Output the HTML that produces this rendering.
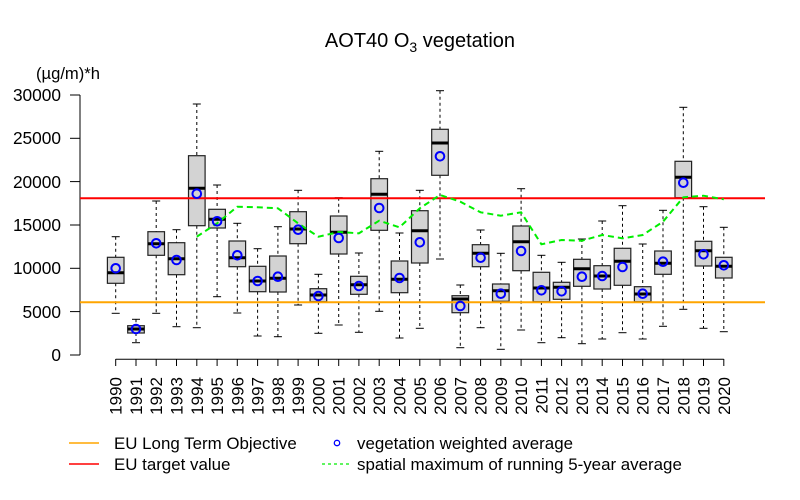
<!DOCTYPE html>
<html><head><meta charset="utf-8"><style>
html,body{margin:0;padding:0;background:#fff;}
svg{display:block;font-family:"Liberation Sans",Arial,sans-serif;}
.w{stroke:#000;stroke-width:1;stroke-dasharray:3,3;fill:none}
.c{stroke:#000;stroke-width:1}
.b{fill:#d3d3d3;stroke:#222;stroke-width:1.2}
.m{stroke:#000;stroke-width:3}
.o{fill:none;stroke:#0000ff;stroke-width:2}
</style></head><body>
<svg width="800" height="500" viewBox="0 0 800 500">
<text x="420" y="47" font-size="20" text-anchor="middle">AOT40 O<tspan font-size="14" dy="5">3</tspan><tspan dy="-5"> vegetation</tspan></text>
<text x="36" y="79" font-size="16.6">(µg/m)*h</text>
<!-- y axis -->
<line x1="80" y1="95" x2="80" y2="355" class="c"/>
<g class="c">
<line x1="70" y1="95" x2="80" y2="95"/><line x1="70" y1="138.3" x2="80" y2="138.3"/><line x1="70" y1="181.6" x2="80" y2="181.6"/><line x1="70" y1="225" x2="80" y2="225"/><line x1="70" y1="268.3" x2="80" y2="268.3"/><line x1="70" y1="311.6" x2="80" y2="311.6"/><line x1="70" y1="355" x2="80" y2="355"/>
</g>
<g font-size="17.3" text-anchor="end">
<text x="61" y="101">30000</text><text x="61" y="144">25000</text><text x="61" y="188">20000</text><text x="61" y="231">15000</text><text x="61" y="274">10000</text><text x="61" y="318">5000</text><text x="61" y="361">0</text>
</g>
<!-- x axis -->
<line x1="115.7" y1="359.3" x2="723.8" y2="359.3" class="c"/>
<g class="c">
<line x1="115.7" y1="359" x2="115.7" y2="366"/><line x1="136" y1="359" x2="136" y2="366"/><line x1="156.2" y1="359" x2="156.2" y2="366"/><line x1="176.5" y1="359" x2="176.5" y2="366"/><line x1="196.8" y1="359" x2="196.8" y2="366"/><line x1="217.1" y1="359" x2="217.1" y2="366"/><line x1="237.3" y1="359" x2="237.3" y2="366"/><line x1="257.6" y1="359" x2="257.6" y2="366"/><line x1="277.9" y1="359" x2="277.9" y2="366"/><line x1="298.1" y1="359" x2="298.1" y2="366"/><line x1="318.4" y1="359" x2="318.4" y2="366"/><line x1="338.7" y1="359" x2="338.7" y2="366"/><line x1="358.9" y1="359" x2="358.9" y2="366"/><line x1="379.2" y1="359" x2="379.2" y2="366"/><line x1="399.5" y1="359" x2="399.5" y2="366"/><line x1="419.8" y1="359" x2="419.8" y2="366"/><line x1="440" y1="359" x2="440" y2="366"/><line x1="460.3" y1="359" x2="460.3" y2="366"/><line x1="480.6" y1="359" x2="480.6" y2="366"/><line x1="500.8" y1="359" x2="500.8" y2="366"/><line x1="521.1" y1="359" x2="521.1" y2="366"/><line x1="541.4" y1="359" x2="541.4" y2="366"/><line x1="561.6" y1="359" x2="561.6" y2="366"/><line x1="581.9" y1="359" x2="581.9" y2="366"/><line x1="602.2" y1="359" x2="602.2" y2="366"/><line x1="622.5" y1="359" x2="622.5" y2="366"/><line x1="642.7" y1="359" x2="642.7" y2="366"/><line x1="663" y1="359" x2="663" y2="366"/><line x1="683.3" y1="359" x2="683.3" y2="366"/><line x1="703.5" y1="359" x2="703.5" y2="366"/><line x1="723.8" y1="359" x2="723.8" y2="366"/>
</g>
<g font-size="17" text-anchor="end">
<text transform="translate(121.7,377) rotate(-90)">1990</text><text transform="translate(142,377) rotate(-90)">1991</text><text transform="translate(162.2,377) rotate(-90)">1992</text><text transform="translate(182.5,377) rotate(-90)">1993</text><text transform="translate(202.8,377) rotate(-90)">1994</text><text transform="translate(223.1,377) rotate(-90)">1995</text><text transform="translate(243.3,377) rotate(-90)">1996</text><text transform="translate(263.6,377) rotate(-90)">1997</text><text transform="translate(283.9,377) rotate(-90)">1998</text><text transform="translate(304.1,377) rotate(-90)">1999</text><text transform="translate(324.4,377) rotate(-90)">2000</text><text transform="translate(344.7,377) rotate(-90)">2001</text><text transform="translate(364.9,377) rotate(-90)">2002</text><text transform="translate(385.2,377) rotate(-90)">2003</text><text transform="translate(405.5,377) rotate(-90)">2004</text><text transform="translate(425.8,377) rotate(-90)">2005</text><text transform="translate(446,377) rotate(-90)">2006</text><text transform="translate(466.3,377) rotate(-90)">2007</text><text transform="translate(486.6,377) rotate(-90)">2008</text><text transform="translate(506.8,377) rotate(-90)">2009</text><text transform="translate(527.1,377) rotate(-90)">2010</text><text transform="translate(547.4,377) rotate(-90)">2011</text><text transform="translate(567.6,377) rotate(-90)">2012</text><text transform="translate(587.9,377) rotate(-90)">2013</text><text transform="translate(608.2,377) rotate(-90)">2014</text><text transform="translate(628.5,377) rotate(-90)">2015</text><text transform="translate(648.7,377) rotate(-90)">2016</text><text transform="translate(669,377) rotate(-90)">2017</text><text transform="translate(689.3,377) rotate(-90)">2018</text><text transform="translate(709.5,377) rotate(-90)">2019</text><text transform="translate(729.8,377) rotate(-90)">2020</text>
</g>

<g id="boxes">
<line class="w" x1="115.7" y1="236.7" x2="115.7" y2="257.3"/><line class="w" x1="115.7" y1="283.3" x2="115.7" y2="313.3"/><line class="c" x1="111.7" y1="236.7" x2="119.7" y2="236.7"/><line class="c" x1="111.7" y1="313.3" x2="119.7" y2="313.3"/><rect class="b" x="107.4" y="257.3" width="16.6" height="26"/><line class="m" x1="107.4" y1="272.7" x2="124" y2="272.7"/>
<line class="w" x1="136" y1="319.3" x2="136" y2="325.7"/><line class="w" x1="136" y1="333" x2="136" y2="342.7"/><line class="c" x1="132" y1="319.3" x2="140" y2="319.3"/><line class="c" x1="132" y1="342.7" x2="140" y2="342.7"/><rect class="b" x="127.7" y="325.7" width="16.6" height="7.3"/><line class="m" x1="127.7" y1="329" x2="144.3" y2="329"/>
<line class="w" x1="156.2" y1="201" x2="156.2" y2="231.7"/><line class="w" x1="156.2" y1="255.3" x2="156.2" y2="313.3"/><line class="c" x1="152.2" y1="201" x2="160.2" y2="201"/><line class="c" x1="152.2" y1="313.3" x2="160.2" y2="313.3"/><rect class="b" x="147.9" y="231.7" width="16.6" height="23.6"/><line class="m" x1="147.9" y1="243.7" x2="164.5" y2="243.7"/>
<line class="w" x1="176.5" y1="229.7" x2="176.5" y2="242.7"/><line class="w" x1="176.5" y1="274.7" x2="176.5" y2="326.7"/><line class="c" x1="172.5" y1="229.7" x2="180.5" y2="229.7"/><line class="c" x1="172.5" y1="326.7" x2="180.5" y2="326.7"/><rect class="b" x="168.2" y="242.7" width="16.6" height="32"/><line class="m" x1="168.2" y1="258.7" x2="184.8" y2="258.7"/>
<line class="w" x1="196.8" y1="104" x2="196.8" y2="155.7"/><line class="w" x1="196.8" y1="225.7" x2="196.8" y2="327.7"/><line class="c" x1="192.8" y1="104" x2="200.8" y2="104"/><line class="c" x1="192.8" y1="327.7" x2="200.8" y2="327.7"/><rect class="b" x="188.5" y="155.7" width="16.6" height="70"/><line class="m" x1="188.5" y1="188.3" x2="205.1" y2="188.3"/>
<line class="w" x1="217.1" y1="185" x2="217.1" y2="209.3"/><line class="w" x1="217.1" y1="228" x2="217.1" y2="296.7"/><line class="c" x1="213.1" y1="185" x2="221.1" y2="185"/><line class="c" x1="213.1" y1="296.7" x2="221.1" y2="296.7"/><rect class="b" x="208.8" y="209.3" width="16.6" height="18.7"/><line class="m" x1="208.8" y1="219.3" x2="225.4" y2="219.3"/>
<line class="w" x1="237.3" y1="223.3" x2="237.3" y2="241"/><line class="w" x1="237.3" y1="266.7" x2="237.3" y2="313"/><line class="c" x1="233.3" y1="223.3" x2="241.3" y2="223.3"/><line class="c" x1="233.3" y1="313" x2="241.3" y2="313"/><rect class="b" x="229" y="241" width="16.6" height="25.7"/><line class="m" x1="229" y1="257.7" x2="245.6" y2="257.7"/>
<line class="w" x1="257.6" y1="248.7" x2="257.6" y2="266.3"/><line class="w" x1="257.6" y1="291.7" x2="257.6" y2="336"/><line class="c" x1="253.6" y1="248.7" x2="261.6" y2="248.7"/><line class="c" x1="253.6" y1="336" x2="261.6" y2="336"/><rect class="b" x="249.3" y="266.3" width="16.6" height="25.4"/><line class="m" x1="249.3" y1="281" x2="265.9" y2="281"/>
<line class="w" x1="277.9" y1="226.7" x2="277.9" y2="256"/><line class="w" x1="277.9" y1="292" x2="277.9" y2="336.7"/><line class="c" x1="273.9" y1="226.7" x2="281.9" y2="226.7"/><line class="c" x1="273.9" y1="336.7" x2="281.9" y2="336.7"/><rect class="b" x="269.6" y="256" width="16.6" height="36"/><line class="m" x1="269.6" y1="278.3" x2="286.2" y2="278.3"/>
<line class="w" x1="298.1" y1="190.3" x2="298.1" y2="211.7"/><line class="w" x1="298.1" y1="243.7" x2="298.1" y2="305"/><line class="c" x1="294.1" y1="190.3" x2="302.1" y2="190.3"/><line class="c" x1="294.1" y1="305" x2="302.1" y2="305"/><rect class="b" x="289.8" y="211.7" width="16.6" height="32"/><line class="m" x1="289.8" y1="229" x2="306.4" y2="229"/>
<line class="w" x1="318.4" y1="274.3" x2="318.4" y2="288.7"/><line class="w" x1="318.4" y1="301.7" x2="318.4" y2="333.3"/><line class="c" x1="314.4" y1="274.3" x2="322.4" y2="274.3"/><line class="c" x1="314.4" y1="333.3" x2="322.4" y2="333.3"/><rect class="b" x="310.1" y="288.7" width="16.6" height="13"/><line class="m" x1="310.1" y1="295" x2="326.7" y2="295"/>
<line class="w" x1="338.7" y1="197.7" x2="338.7" y2="216"/><line class="w" x1="338.7" y1="254" x2="338.7" y2="325"/><line class="c" x1="334.7" y1="197.7" x2="342.7" y2="197.7"/><line class="c" x1="334.7" y1="325" x2="342.7" y2="325"/><rect class="b" x="330.4" y="216" width="16.6" height="38"/><line class="m" x1="330.4" y1="232.3" x2="347" y2="232.3"/>
<line class="w" x1="358.9" y1="253" x2="358.9" y2="276.3"/><line class="w" x1="358.9" y1="294.3" x2="358.9" y2="332.3"/><line class="c" x1="354.9" y1="253" x2="362.9" y2="253"/><line class="c" x1="354.9" y1="332.3" x2="362.9" y2="332.3"/><rect class="b" x="350.6" y="276.3" width="16.6" height="18"/><line class="m" x1="350.6" y1="284.7" x2="367.2" y2="284.7"/>
<line class="w" x1="379.2" y1="151.3" x2="379.2" y2="178.7"/><line class="w" x1="379.2" y1="230.3" x2="379.2" y2="311.3"/><line class="c" x1="375.2" y1="151.3" x2="383.2" y2="151.3"/><line class="c" x1="375.2" y1="311.3" x2="383.2" y2="311.3"/><rect class="b" x="370.9" y="178.7" width="16.6" height="51.6"/><line class="m" x1="370.9" y1="194.3" x2="387.5" y2="194.3"/>
<line class="w" x1="399.5" y1="233" x2="399.5" y2="261"/><line class="w" x1="399.5" y1="292.7" x2="399.5" y2="338"/><line class="c" x1="395.5" y1="233" x2="403.5" y2="233"/><line class="c" x1="395.5" y1="338" x2="403.5" y2="338"/><rect class="b" x="391.2" y="261" width="16.6" height="31.7"/><line class="m" x1="391.2" y1="279.3" x2="407.8" y2="279.3"/>
<line class="w" x1="419.8" y1="190.3" x2="419.8" y2="210.7"/><line class="w" x1="419.8" y1="263" x2="419.8" y2="328.3"/><line class="c" x1="415.8" y1="190.3" x2="423.8" y2="190.3"/><line class="c" x1="415.8" y1="328.3" x2="423.8" y2="328.3"/><rect class="b" x="411.5" y="210.7" width="16.6" height="52.3"/><line class="m" x1="411.5" y1="230.7" x2="428.1" y2="230.7"/>
<line class="w" x1="440" y1="90.7" x2="440" y2="129.3"/><line class="w" x1="440" y1="175.3" x2="440" y2="259"/><line class="c" x1="436" y1="90.7" x2="444" y2="90.7"/><line class="c" x1="436" y1="259" x2="444" y2="259"/><rect class="b" x="431.7" y="129.3" width="16.6" height="46"/><line class="m" x1="431.7" y1="143" x2="448.3" y2="143"/>
<line class="w" x1="460.3" y1="285" x2="460.3" y2="295.7"/><line class="w" x1="460.3" y1="312.7" x2="460.3" y2="347.7"/><line class="c" x1="456.3" y1="285" x2="464.3" y2="285"/><line class="c" x1="456.3" y1="347.7" x2="464.3" y2="347.7"/><rect class="b" x="452" y="295.7" width="16.6" height="17"/><line class="m" x1="452" y1="299" x2="468.6" y2="299"/>
<line class="w" x1="480.6" y1="230" x2="480.6" y2="244.7"/><line class="w" x1="480.6" y1="266.7" x2="480.6" y2="327.7"/><line class="c" x1="476.6" y1="230" x2="484.6" y2="230"/><line class="c" x1="476.6" y1="327.7" x2="484.6" y2="327.7"/><rect class="b" x="472.3" y="244.7" width="16.6" height="22"/><line class="m" x1="472.3" y1="253.3" x2="488.9" y2="253.3"/>
<line class="w" x1="500.8" y1="253.3" x2="500.8" y2="284"/><line class="w" x1="500.8" y1="301.3" x2="500.8" y2="349.3"/><line class="c" x1="496.8" y1="253.3" x2="504.8" y2="253.3"/><line class="c" x1="496.8" y1="349.3" x2="504.8" y2="349.3"/><rect class="b" x="492.5" y="284" width="16.6" height="17.3"/><line class="m" x1="492.5" y1="290.7" x2="509.1" y2="290.7"/>
<line class="w" x1="521.1" y1="188.7" x2="521.1" y2="226"/><line class="w" x1="521.1" y1="270.7" x2="521.1" y2="330"/><line class="c" x1="517.1" y1="188.7" x2="525.1" y2="188.7"/><line class="c" x1="517.1" y1="330" x2="525.1" y2="330"/><rect class="b" x="512.8" y="226" width="16.6" height="44.7"/><line class="m" x1="512.8" y1="241.7" x2="529.4" y2="241.7"/>
<line class="w" x1="541.4" y1="255.3" x2="541.4" y2="272.3"/><line class="w" x1="541.4" y1="301.7" x2="541.4" y2="342.7"/><line class="c" x1="537.4" y1="255.3" x2="545.4" y2="255.3"/><line class="c" x1="537.4" y1="342.7" x2="545.4" y2="342.7"/><rect class="b" x="533.1" y="272.3" width="16.6" height="29.4"/><line class="m" x1="533.1" y1="288" x2="549.7" y2="288"/>
<line class="w" x1="561.6" y1="262.3" x2="561.6" y2="282.3"/><line class="w" x1="561.6" y1="299.3" x2="561.6" y2="337.7"/><line class="c" x1="557.6" y1="262.3" x2="565.6" y2="262.3"/><line class="c" x1="557.6" y1="337.7" x2="565.6" y2="337.7"/><rect class="b" x="553.3" y="282.3" width="16.6" height="17"/><line class="m" x1="553.3" y1="287.3" x2="569.9" y2="287.3"/>
<line class="w" x1="581.9" y1="239" x2="581.9" y2="259.3"/><line class="w" x1="581.9" y1="286.3" x2="581.9" y2="343.7"/><line class="c" x1="577.9" y1="239" x2="585.9" y2="239"/><line class="c" x1="577.9" y1="343.7" x2="585.9" y2="343.7"/><rect class="b" x="573.6" y="259.3" width="16.6" height="27"/><line class="m" x1="573.6" y1="268.7" x2="590.2" y2="268.7"/>
<line class="w" x1="602.2" y1="221" x2="602.2" y2="265.7"/><line class="w" x1="602.2" y1="289" x2="602.2" y2="339"/><line class="c" x1="598.2" y1="221" x2="606.2" y2="221"/><line class="c" x1="598.2" y1="339" x2="606.2" y2="339"/><rect class="b" x="593.9" y="265.7" width="16.6" height="23.3"/><line class="m" x1="593.9" y1="276" x2="610.5" y2="276"/>
<line class="w" x1="622.5" y1="205.7" x2="622.5" y2="248.3"/><line class="w" x1="622.5" y1="285.3" x2="622.5" y2="332.7"/><line class="c" x1="618.5" y1="205.7" x2="626.5" y2="205.7"/><line class="c" x1="618.5" y1="332.7" x2="626.5" y2="332.7"/><rect class="b" x="614.2" y="248.3" width="16.6" height="37"/><line class="m" x1="614.2" y1="261.3" x2="630.8" y2="261.3"/>
<line class="w" x1="642.7" y1="244" x2="642.7" y2="286.7"/><line class="w" x1="642.7" y1="301.7" x2="642.7" y2="339"/><line class="c" x1="638.7" y1="244" x2="646.7" y2="244"/><line class="c" x1="638.7" y1="339" x2="646.7" y2="339"/><rect class="b" x="634.4" y="286.7" width="16.6" height="15"/><line class="m" x1="634.4" y1="294" x2="651" y2="294"/>
<line class="w" x1="663" y1="210.3" x2="663" y2="251"/><line class="w" x1="663" y1="274.3" x2="663" y2="326.3"/><line class="c" x1="659" y1="210.3" x2="667" y2="210.3"/><line class="c" x1="659" y1="326.3" x2="667" y2="326.3"/><rect class="b" x="654.7" y="251" width="16.6" height="23.3"/><line class="m" x1="654.7" y1="263.3" x2="671.3" y2="263.3"/>
<line class="w" x1="683.3" y1="107.3" x2="683.3" y2="161.3"/><line class="w" x1="683.3" y1="197.7" x2="683.3" y2="309.3"/><line class="c" x1="679.3" y1="107.3" x2="687.3" y2="107.3"/><line class="c" x1="679.3" y1="309.3" x2="687.3" y2="309.3"/><rect class="b" x="675" y="161.3" width="16.6" height="36.4"/><line class="m" x1="675" y1="177.3" x2="691.6" y2="177.3"/>
<line class="w" x1="703.5" y1="206.7" x2="703.5" y2="241.3"/><line class="w" x1="703.5" y1="266" x2="703.5" y2="328.3"/><line class="c" x1="699.5" y1="206.7" x2="707.5" y2="206.7"/><line class="c" x1="699.5" y1="328.3" x2="707.5" y2="328.3"/><rect class="b" x="695.2" y="241.3" width="16.6" height="24.7"/><line class="m" x1="695.2" y1="250.7" x2="711.8" y2="250.7"/>
<line class="w" x1="723.8" y1="227.3" x2="723.8" y2="257.3"/><line class="w" x1="723.8" y1="278" x2="723.8" y2="331.7"/><line class="c" x1="719.8" y1="227.3" x2="727.8" y2="227.3"/><line class="c" x1="719.8" y1="331.7" x2="727.8" y2="331.7"/><rect class="b" x="715.5" y="257.3" width="16.6" height="20.7"/><line class="m" x1="715.5" y1="266.3" x2="732.1" y2="266.3"/>
</g>

<line x1="80" y1="198.3" x2="765" y2="198.3" stroke="#ff0000" stroke-width="2"/>
<line x1="80" y1="302.3" x2="765" y2="302.3" stroke="#ffa500" stroke-width="2"/>

<polyline fill="none" stroke="#00ee00" stroke-width="2" stroke-dasharray="6,4" points="196.8,236.7 217.1,223.3 237.3,206.7 257.6,207.3 277.9,208.3 298.1,223.3 318.4,236.7 338.7,232 358.9,233.3 379.2,220.7 399.5,227.3 419.8,208.3 440,195 460.3,201.7 480.6,212.3 500.8,215.7 521.1,212.3 541.4,244.3 561.6,240 581.9,240.7 602.2,235 622.5,238.3 642.7,235 663,221.7 683.3,197.3 703.5,195.7 723.8,199.3"/>

<g class="o">
<circle cx="115.7" cy="268.3" r="4.3"/><circle cx="136" cy="329" r="4.3"/><circle cx="156.2" cy="243.3" r="4.3"/><circle cx="176.5" cy="260" r="4.3"/><circle cx="196.8" cy="193.7" r="4.3"/><circle cx="217.1" cy="221.3" r="4.3"/><circle cx="237.3" cy="255.3" r="4.3"/><circle cx="257.6" cy="281" r="4.3"/><circle cx="277.9" cy="276.7" r="4.3"/><circle cx="298.1" cy="229.7" r="4.3"/><circle cx="318.4" cy="296" r="4.3"/><circle cx="338.7" cy="238" r="4.3"/><circle cx="358.9" cy="286" r="4.3"/><circle cx="379.2" cy="208" r="4.3"/><circle cx="399.5" cy="278" r="4.3"/><circle cx="419.8" cy="242.3" r="4.3"/><circle cx="440" cy="156.3" r="4.3"/><circle cx="460.3" cy="306" r="4.3"/><circle cx="480.6" cy="257.7" r="4.3"/><circle cx="500.8" cy="293.7" r="4.3"/><circle cx="521.1" cy="251" r="4.3"/><circle cx="541.4" cy="290.3" r="4.3"/><circle cx="561.6" cy="291.3" r="4.3"/><circle cx="581.9" cy="276.7" r="4.3"/><circle cx="602.2" cy="276" r="4.3"/><circle cx="622.5" cy="267" r="4.3"/><circle cx="642.7" cy="293.7" r="4.3"/><circle cx="663" cy="261.7" r="4.3"/><circle cx="683.3" cy="182.7" r="4.3"/><circle cx="703.5" cy="254.3" r="4.3"/><circle cx="723.8" cy="265.3" r="4.3"/>
</g>

<!-- legend -->
<line x1="69" y1="443" x2="99" y2="443" stroke="#ffa500" stroke-width="1.5"/>
<line x1="69" y1="464" x2="99" y2="464" stroke="#ff0000" stroke-width="1.5"/>
<circle cx="337" cy="443" r="2.7" fill="none" stroke="#0000ff" stroke-width="1.3"/>
<line x1="322" y1="464" x2="350" y2="464" stroke="#00ee00" stroke-width="1.3" stroke-dasharray="3,3"/>
<g font-size="16.9">
<text x="114" y="449">EU Long Term Objective</text>
<text x="114" y="470">EU target value</text>
<text x="357" y="449">vegetation weighted average</text>
<text x="357" y="470">spatial maximum of running 5-year average</text>
</g>
</svg>
</body></html>
